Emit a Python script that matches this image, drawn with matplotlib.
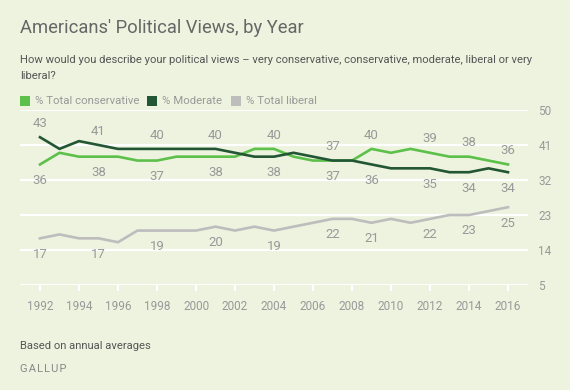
import matplotlib
matplotlib.use('Agg')
import matplotlib.pyplot as plt
from matplotlib.patches import Rectangle

years = list(range(1992, 2017))
conservative = [36, 39, 38, 38, 38, 37, 37, 38, 38, 38, 38, 40, 40, 38, 37, 37, 37, 40, 39, 40, 39, 38, 38, 37, 36]
moderate = [43, 40, 42, 41, 40, 40, 40, 40, 40, 40, 39, 38, 38, 39, 38, 37, 37, 36, 35, 35, 35, 34, 34, 35, 34]
liberal = [17, 18, 17, 17, 16, 19, 19, 19, 19, 20, 19, 20, 19, 20, 21, 22, 22, 21, 22, 21, 22, 23, 23, 24, 25]
label_years = [1992, 1995, 1998, 2001, 2004, 2007, 2009, 2012, 2014, 2016]
yticks = [5, 14, 23, 32, 41, 50]

bg = '#edf3df'
c_cons = '#5cc04a'
c_mod = '#235634'
c_lib = '#bdbdbd'
grey = '#999999'

plt.rcParams['font.family'] = ['Roboto', 'DejaVu Sans']

fig = plt.figure(figsize=(5.7, 3.9), dpi=100, facecolor=bg)
ax = fig.add_axes([20/570, 105/390, 508/570, 175/390], facecolor=bg)

for y in yticks:
    ax.axhline(y, color='white', lw=1.6, zorder=1)

ax.plot(years, liberal, color=c_lib, lw=1.9, zorder=3)
ax.plot(years, conservative, color=c_cons, lw=1.9, zorder=3)
ax.plot(years, moderate, color=c_mod, lw=1.9, zorder=4)

# value labels: higher of cons/mod above, lower below, liberal below
for yr in label_years:
    i = years.index(yr)
    c, m, l = conservative[i], moderate[i], liberal[i]
    hi, lo = (m, c) if m > c else (c, m)
    ax.annotate(str(hi), (yr, hi), xytext=(0, 10), textcoords='offset points',
                ha='center', va='center', fontsize=9.5, color=grey)
    ax.annotate(str(lo), (yr, lo), xytext=(0, -11.5), textcoords='offset points',
                ha='center', va='center', fontsize=9.5, color=grey)
    ax.annotate(str(l), (yr, l), xytext=(0, -11.5), textcoords='offset points',
                ha='center', va='center', fontsize=9.5, color=grey)

ax.set_xlim(1992 - 20/19.5, 2016 + 20/19.5)
ax.set_ylim(5, 50)
ax.set_xticks(range(1992, 2017, 2))
ax.set_yticks(yticks)
ax.yaxis.tick_right()
ax.tick_params(axis='y', length=0, pad=7.5, labelsize=8.5, labelcolor=grey)
ax.tick_params(axis='x', length=4.5, width=1.5, color='white', pad=6,
               labelsize=8.5, labelcolor=grey)
for s in ax.spines.values():
    s.set_visible(False)

fig.text(20/570, 1 - 28/390, "Americans' Political Views, by Year", fontsize=13.2,
         color='#666666', va='center', ha='left')
fig.text(20/570, 1 - 60/390, "How would you describe your political views \u2013 very conservative, "
         "conservative, moderate, liberal or very", fontsize=8.1, color='#555555', va='center')
fig.text(20/570, 1 - 76/390, "liberal?", fontsize=8.1, color='#555555', va='center')

legend_items = [('% Total conservative', c_cons, 20), ('% Moderate', c_mod, 147), ('% Total liberal', c_lib, 231)]
for name, col, x0 in legend_items:
    fig.patches.append(Rectangle((x0/570, 1 - 106/390), 10/570, 10/390, transform=fig.transFigure,
                                 facecolor=col, edgecolor='none'))
    fig.text((x0 + 15)/570, 1 - 101/390, name, fontsize=8.2, color=grey, va='center')

fig.text(20/570, 1 - 346/390, "Based on annual averages", fontsize=8.1, color='#555555', va='center')
# letter-spaced source line
fig.text(20/570, 1 - 369/390, "G\u200aA\u200aL\u200aL\u200aU\u200aP", fontsize=8, color='#888888', va='center')

fig.savefig('out.png', dpi=100, facecolor=bg)
